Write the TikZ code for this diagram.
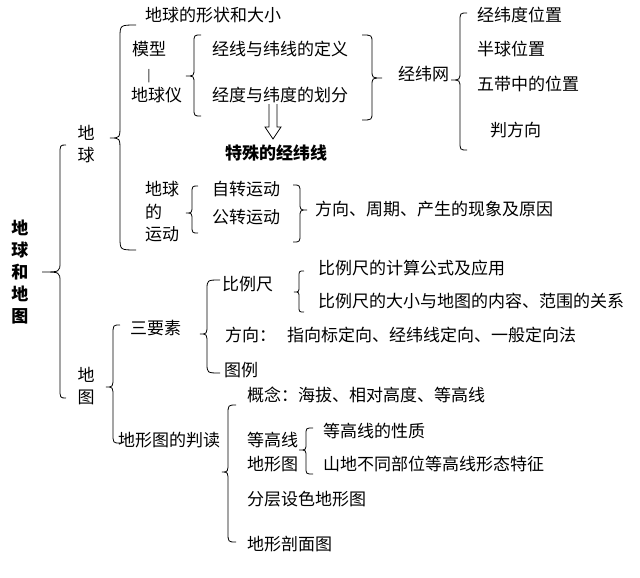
\documentclass[tikz,border=0pt]{standalone}
\usepackage{fontspec}
\setmainfont{Noto Sans CJK SC}
\newcommand\mylbr[7]{% L c T Y1 M Y2 r : left brace
  \draw[br] (#1+#2,#4) .. controls (#1,#4) .. (#1,#4+#7) -- (#1,#5-#7)
    .. controls (#1,#5) .. (#3,#5) .. controls (#1,#5) .. (#1,#5+#7)
    -- (#1,#6-#7) .. controls (#1,#6) .. (#1+#2,#6);}
\newcommand\myrbr[7]{% L c T Y1 M Y2 r : right brace
  \draw[br] (#1-#2,#4) .. controls (#1,#4) .. (#1,#4+#7) -- (#1,#5-#7)
    .. controls (#1,#5) .. (#3,#5) .. controls (#1,#5) .. (#1,#5+#7)
    -- (#1,#6-#7) .. controls (#1,#6) .. (#1-#2,#6);}
\begin{document}
\begin{tikzpicture}[x=1pt,y=-1pt,
  txt/.style={anchor=west,inner sep=0pt,font=\fontsize{17}{22}\selectfont,text height=0.88em,text depth=0.12em},
  vtxt/.style={inner sep=0pt,align=center,font=\fontsize{17}{22}\selectfont},
  br/.style={line width=0.8pt,black}]
\useasboundingbox (0,0) rectangle (640,578);
\fill[white] (0,0) rectangle (640,578);
% title
\node[vtxt,font=\fontsize{17}{22}\selectfont\bfseries] (title) at (20,272) {地\\球\\和\\地\\图};
\mylbr{60}{6}{42}{145}{272}{398}{10}
% 地球 branch
\node[vtxt] (diqiu) at (86,144) {地\\球};
\mylbr{120}{16}{110}{25}{138}{250}{13}
\node[txt] (shape) at (145,18) {地球的形状和大小};
\node[txt] (moxing) at (132,52) {模型};
\node[inner sep=0pt,font=\fontsize{12}{12}\selectfont] (bar) at (149,76) {|};
\node[txt] (diqiuyi) at (131,98) {地球仪};
\mylbr{194}{7}{186}{35}{76}{116}{8}
\node[txt] (dingyi) at (212,52) {经线与纬线的定义};
\node[txt] (huafen) at (212,98) {经度与纬度的划分};
\myrbr{372}{10}{382}{35}{78}{120}{8}
\node[txt] (jwwang) at (398,77) {经纬网};
\mylbr{460}{7}{451}{13}{80}{150}{9}
\node[txt] (p1) at (477,18) {经纬度位置};
\node[txt] (p2) at (477,52) {半球位置};
\node[txt] (p3) at (477,87) {五带中的位置};
\node[txt] (p4) at (490,133) {判方向};
% hollow arrow
\draw[line width=0.8pt,line join=miter] (269,104) -- (269,127) -- (265,127) -- (273,139) -- (281,127) -- (277,127) -- (277,104);
\node[txt,font=\fontsize{17}{22}\selectfont\bfseries] (teshu) at (225,156) {特殊的经纬线};
% 地球的运动
\node[txt] (yd1) at (145,192) {地球};
\node[txt] (yd2) at (145,215) {的};
\node[txt] (yd3) at (145,237) {运动};
\mylbr{192}{6}{186}{186}{213}{233}{8}
\node[txt] (zizhuan) at (212,192) {自转运动};
\node[txt] (gongzhuan) at (212,220) {公转运动};
\myrbr{300}{7}{307}{185}{210}{242}{8}
\node[txt] (fangxiang) at (315,212) {方向、周期、产生的现象及原因};
% 地图 branch
\node[vtxt] (ditu) at (86,386) {地\\图};
\mylbr{113}{7}{106}{325}{387}{443}{10}
\node[txt] (sanyaosu) at (130,331) {三要素};
\mylbr{207}{13}{200}{280}{334}{373}{10}
\node[txt] (bili) at (222,287) {比例尺};
\mylbr{299}{5}{294}{271}{292}{312}{6}
\node[txt] (b1) at (318,271) {比例尺的计算公式及应用};
\node[txt] (b2) at (318,304) {比例尺的大小与地图的内容、范围的关系};
\node[txt] (fx) at (225,338) {方向：\hspace{11pt}指向标定向、经纬线定向、一般定向法};
\node[txt] (tuli) at (224,373) {图例};
\node[txt] (panDu) at (118,443) {地形图的判读};
\mylbr{228}{8}{222}{405}{472}{542}{10}
\node[txt] (gainian) at (247,398) {概念：海拔、相对高度、等高线};
\node[txt] (dgx1) at (247,443) {等高线};
\node[txt] (dgx2) at (247,467) {地形图};
\mylbr{306}{7}{299}{428}{450}{474}{7}
\node[txt] (xingzhi) at (323,434) {等高线的性质};
\node[txt] (shandi) at (323,467) {山地不同部位等高线形态特征};
\node[txt] (fenceng) at (247,502) {分层设色地形图};
\node[txt] (poumian) at (247,547) {地形剖面图};
\end{tikzpicture}
\end{document}
